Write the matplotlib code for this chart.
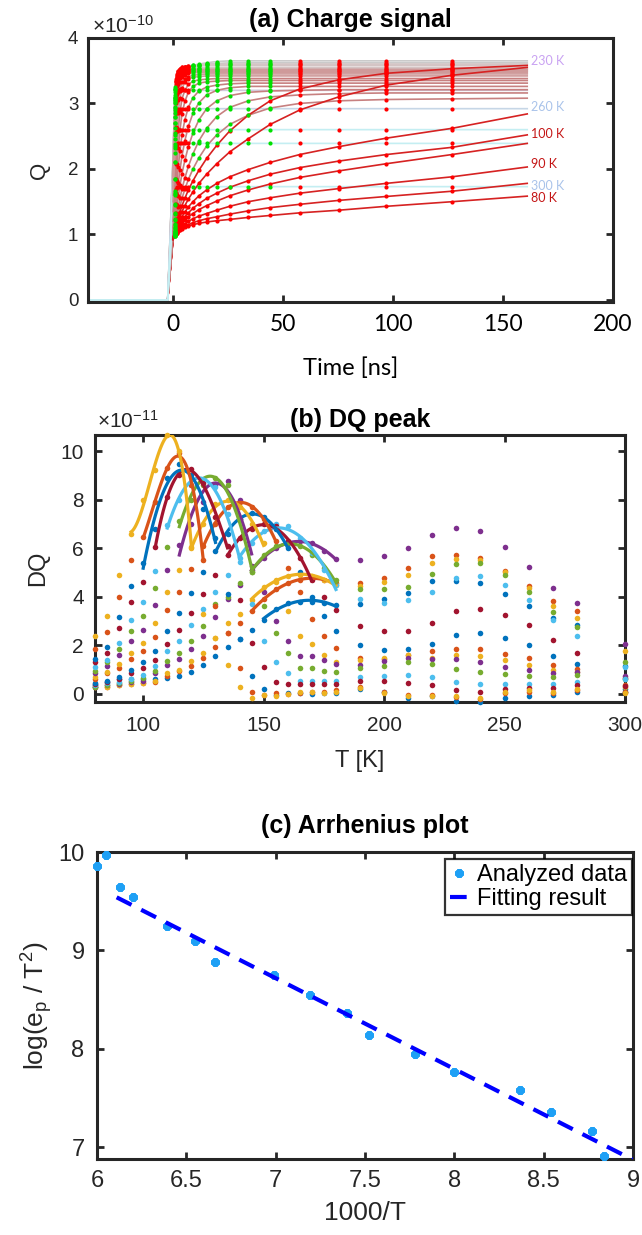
import matplotlib
matplotlib.use('Agg')
import matplotlib.pyplot as plt
import numpy as np

plt.rcParams['font.family'] = ['Liberation Sans', 'DejaVu Sans']
plt.rcParams['mathtext.fontset'] = 'custom'
plt.rcParams['mathtext.rm'] = 'Liberation Sans'
plt.rcParams['mathtext.it'] = 'Liberation Sans:italic'

INK = '#262626'
CALIBRI = ['Lato', 'DejaVu Sans']   # closest installed match to Calibri

# ---------------- (a) charge transients, Q in units of 1e-10 ----------------
t_pre = [-38.6, -2.4]          # baseline before trigger, Q = 0
t_dots = [0.8, 1.1, 1.45, 1.9, 2.4, 3.2, 4.1, 5.4, 7.0, 9.1, 11.8, 15.3,
          19.9, 25.8, 34.2, 44.2, 57.6, 75.3, 97.0, 126.8]
t_last = 161.0
temps_a = [80, 85, 90, 95, 100, 105, 110, 115, 120, 125, 130, 135, 140, 145,
           150, 155, 160, 165, 170, 175, 180, 190, 200, 210, 220, 230, 240,
           250, 260, 270, 280, 300]
q_trig = [0.92, 0.92, 0.93, 0.93, 0.93, 0.94, 0.95, 0.96, 0.97, 0.98, 1.0,
          1.02, 1.05, 1.1, 1.2, 1.35, 1.5, 1.6, 1.7, 1.8, 1.9, 2.0, 2.05,
          2.1, 2.1, 2.15, 2.1, 2.0, 1.9, 1.75, 1.6, 1.3]
q_curves = [
    [0.97, 0.99, 1.01, 1.03, 1.05, 1.07, 1.09, 1.11, 1.13, 1.15, 1.17, 1.19, 1.21, 1.23, 1.26, 1.29, 1.33, 1.37, 1.43, 1.50],
    [0.97, 0.99, 1.01, 1.03, 1.05, 1.08, 1.10, 1.13, 1.15, 1.18, 1.21, 1.24, 1.27, 1.31, 1.36, 1.41, 1.46, 1.52, 1.58, 1.66],
    [0.98, 1.00, 1.02, 1.05, 1.07, 1.10, 1.13, 1.16, 1.20, 1.24, 1.28, 1.32, 1.37, 1.43, 1.50, 1.56, 1.63, 1.70, 1.78, 1.88],
    [0.99, 1.01, 1.04, 1.07, 1.10, 1.14, 1.18, 1.22, 1.27, 1.32, 1.38, 1.44, 1.51, 1.59, 1.68, 1.77, 1.87, 1.97, 2.08, 2.22],
    [1.00, 1.02, 1.05, 1.09, 1.12, 1.17, 1.22, 1.27, 1.33, 1.40, 1.47, 1.55, 1.63, 1.72, 1.82, 1.92, 2.02, 2.12, 2.22, 2.33],
    [1.00, 1.03, 1.07, 1.11, 1.15, 1.21, 1.27, 1.34, 1.42, 1.50, 1.59, 1.68, 1.78, 1.88, 1.99, 2.10, 2.22, 2.34, 2.47, 2.62],
    [1.02, 1.06, 1.10, 1.15, 1.20, 1.27, 1.35, 1.44, 1.54, 1.65, 1.78, 1.92, 2.08, 2.26, 2.46, 2.68, 2.90, 3.10, 3.28, 3.43],
    [1.04, 1.08, 1.13, 1.19, 1.25, 1.34, 1.44, 1.55, 1.68, 1.82, 1.98, 2.16, 2.36, 2.58, 2.82, 3.04, 3.22, 3.36, 3.46, 3.53],
    [1.06, 1.11, 1.17, 1.24, 1.32, 1.43, 1.55, 1.69, 1.84, 2.00, 2.17, 2.35, 2.52, 2.68, 2.82, 2.93, 3.00, 3.04, 3.06, 3.07],
    [1.10, 1.16, 1.23, 1.32, 1.42, 1.55, 1.70, 1.86, 2.04, 2.23, 2.43, 2.62, 2.80, 2.94, 3.04, 3.10, 3.13, 3.15, 3.16, 3.16],
    [1.15, 1.23, 1.33, 1.45, 1.58, 1.75, 1.93, 2.13, 2.34, 2.55, 2.75, 2.92, 3.04, 3.12, 3.17, 3.19, 3.20, 3.21, 3.21, 3.21],
    [1.22, 1.33, 1.46, 1.61, 1.78, 1.99, 2.20, 2.43, 2.65, 2.85, 3.01, 3.13, 3.20, 3.24, 3.26, 3.26, 3.26, 3.26, 3.26, 3.26],
    [1.32, 1.46, 1.63, 1.82, 2.03, 2.28, 2.52, 2.75, 2.94, 3.09, 3.19, 3.25, 3.28, 3.30, 3.31, 3.31, 3.31, 3.31, 3.31, 3.31],
    [1.45, 1.63, 1.84, 2.07, 2.32, 2.60, 2.84, 3.03, 3.17, 3.26, 3.31, 3.33, 3.34, 3.35, 3.35, 3.35, 3.35, 3.35, 3.35, 3.35],
    [1.62, 1.84, 2.08, 2.34, 2.60, 2.87, 3.07, 3.20, 3.29, 3.34, 3.36, 3.37, 3.38, 3.38, 3.38, 3.38, 3.38, 3.38, 3.38, 3.38],
    [1.85, 2.10, 2.37, 2.62, 2.86, 3.08, 3.23, 3.32, 3.37, 3.40, 3.41, 3.42, 3.42, 3.42, 3.42, 3.42, 3.42, 3.42, 3.42, 3.42],
    [2.10, 2.38, 2.64, 2.87, 3.06, 3.22, 3.32, 3.38, 3.41, 3.43, 3.44, 3.45, 3.45, 3.45, 3.45, 3.45, 3.45, 3.45, 3.45, 3.45],
    [2.35, 2.62, 2.86, 3.05, 3.20, 3.33, 3.40, 3.44, 3.46, 3.47, 3.47, 3.47, 3.47, 3.47, 3.47, 3.47, 3.47, 3.47, 3.47, 3.47],
    [2.55, 2.80, 3.01, 3.17, 3.29, 3.39, 3.44, 3.47, 3.48, 3.49, 3.49, 3.49, 3.49, 3.49, 3.49, 3.49, 3.49, 3.49, 3.49, 3.49],
    [2.70, 2.93, 3.12, 3.26, 3.36, 3.43, 3.47, 3.49, 3.50, 3.50, 3.50, 3.50, 3.50, 3.50, 3.50, 3.50, 3.50, 3.50, 3.50, 3.50],
    [2.85, 3.05, 3.21, 3.33, 3.41, 3.46, 3.49, 3.51, 3.52, 3.52, 3.52, 3.52, 3.52, 3.52, 3.52, 3.52, 3.52, 3.52, 3.52, 3.52],
    [2.95, 3.13, 3.27, 3.37, 3.43, 3.47, 3.49, 3.50, 3.51, 3.52, 3.52, 3.53, 3.53, 3.53, 3.53, 3.53, 3.53, 3.53, 3.53, 3.53],
    [3.00, 3.17, 3.30, 3.39, 3.45, 3.49, 3.51, 3.52, 3.53, 3.54, 3.54, 3.55, 3.55, 3.55, 3.55, 3.55, 3.55, 3.55, 3.55, 3.55],
    [3.05, 3.20, 3.32, 3.41, 3.47, 3.51, 3.53, 3.55, 3.56, 3.57, 3.57, 3.58, 3.58, 3.58, 3.58, 3.58, 3.58, 3.58, 3.58, 3.58],
    [3.08, 3.22, 3.34, 3.43, 3.49, 3.53, 3.55, 3.56, 3.57, 3.58, 3.59, 3.60, 3.60, 3.60, 3.60, 3.60, 3.60, 3.60, 3.60, 3.60],
    [3.10, 3.25, 3.37, 3.45, 3.50, 3.53, 3.55, 3.56, 3.57, 3.58, 3.60, 3.62, 3.64, 3.65, 3.65, 3.65, 3.65, 3.65, 3.65, 3.65],
    [3.08, 3.22, 3.34, 3.42, 3.48, 3.52, 3.54, 3.55, 3.56, 3.57, 3.58, 3.60, 3.61, 3.62, 3.62, 3.62, 3.62, 3.62, 3.62, 3.62],
    [2.90, 3.02, 3.10, 3.15, 3.18, 3.19, 3.20, 3.20, 3.20, 3.20, 3.20, 3.20, 3.20, 3.20, 3.20, 3.20, 3.20, 3.20, 3.20, 3.20],
    [2.70, 2.80, 2.86, 2.89, 2.91, 2.92, 2.92, 2.92, 2.92, 2.92, 2.92, 2.92, 2.92, 2.92, 2.92, 2.92, 2.92, 2.92, 2.92, 2.92],
    [2.45, 2.52, 2.56, 2.58, 2.59, 2.60, 2.60, 2.60, 2.60, 2.60, 2.60, 2.60, 2.60, 2.60, 2.60, 2.60, 2.60, 2.60, 2.60, 2.60],
    [2.25, 2.32, 2.36, 2.38, 2.39, 2.39, 2.39, 2.39, 2.39, 2.39, 2.39, 2.39, 2.39, 2.39, 2.39, 2.39, 2.39, 2.39, 2.39, 2.39],
    [1.60, 1.66, 1.70, 1.72, 1.73, 1.73, 1.73, 1.73, 1.73, 1.73, 1.73, 1.73, 1.73, 1.73, 1.73, 1.73, 1.73, 1.73, 1.73, 1.73],
]
q_last = [1.585, 1.78, 2.03, 2.39, 2.52, 2.84, 3.55, 3.58, 3.08, 3.16, 3.21,
          3.26, 3.31, 3.35, 3.38, 3.42, 3.45, 3.47, 3.49, 3.50, 3.52, 3.53,
          3.55, 3.58, 3.60, 3.65, 3.62, 3.20, 2.92, 2.60, 2.39, 1.73]
curve_labels = ['230 K', '260 K', '100 K', '90 K', '300 K', '80 K']
curve_label_q = [3.65, 2.95, 2.53, 2.08, 1.74, 1.56]
curve_label_colors = ['#c9a2f2', '#a9c3ea', '#c41515', '#c41515', '#a9c3ea', '#c41515']

# ---------------- (b) DQ vs T for 17 rate windows, units of 1e-11 ----------------
temps_b = [80, 85, 90, 95, 100, 105, 110, 115, 120, 125, 130, 135, 140, 145,
           150, 155, 160, 165, 170, 175, 180, 190, 200, 210, 220, 230, 240,
           250, 260, 270, 280, 300]
dq_windows = [
    [0.35, 0.5, 0.6, 0.6, 0.6, 0.6, 0.65, 0.75, 0.9, 1.2, 1.55, 1.95, 2.25, 2.65, 3.05, 3.5, 3.75, 3.8, 3.8, 3.75, 3.65, 3.7, 3.9, 4.15, 4.65, 4.65, 4.57, 4.12, 3.62, 3.14, 2.83, 1.15],
    [0.3, 0.3, 0.35, 0.4, 0.45, 0.5, 0.75, 0.95, 1.15, 1.5, 1.95, 2.5, 2.9, 3.4, 3.9, 4.3, 4.55, 4.7, 4.75, 4.7, 4.55, 4.55, 4.78, 5.19, 5.66, 5.72, 5.61, 5.06, 4.44, 3.83, 3.42, 0.35],
    [0.3, 0.3, 0.35, 0.4, 0.45, 0.55, 0.85, 1.0, 1.35, 1.7, 2.3, 2.9, 3.3, 3.85, 4.4, 4.7, 4.85, 4.9, 4.85, 4.7, 4.5, 4.45, 4.6, 4.9, 5.4, 5.56, 5.5, 5.0, 4.35, 3.6, 3.12, 1.76],
    [0.3, 0.35, 0.4, 0.5, 0.55, 0.85, 1.2, 1.45, 1.85, 2.4, 3.15, 3.9, 4.5, 5.1, 5.6, 6.0, 6.2, 6.3, 6.2, 5.9, 5.55, 5.5, 5.66, 6.0, 6.54, 6.82, 6.71, 6.06, 5.24, 4.38, 3.75, 2.07],
    [0.3, 0.35, 0.45, 0.55, 0.65, 0.95, 1.35, 1.7, 2.2, 2.8, 3.7, 4.0, 4.55, 5.0, 5.7, 6.1, 6.25, 6.1, 5.7, 5.2, 4.7, 4.3, 4.3, 4.4, 4.92, 5.36, 5.4, 4.88, 4.2, 3.37, 2.74, 1.3],
    [0.35, 0.45, 0.5, 0.6, 0.8, 1.15, 1.75, 2.2, 2.85, 3.5, 4.2, 4.9, 5.6, 6.2, 6.7, 7.0, 6.9, 6.4, 5.8, 5.1, 4.5, 3.9, 3.75, 3.85, 4.2, 4.79, 4.86, 4.47, 3.87, 3.05, 2.4, 1.1],
    [0.4, 0.5, 0.6, 0.85, 1.05, 1.4, 2.05, 2.65, 3.35, 4.1, 4.9, 5.7, 6.4, 6.8, 7.0, 6.9, 6.3, 5.6, 4.7, 4.0, 3.45, 2.8, 2.6, 2.6, 2.9, 3.42, 3.51, 3.24, 2.84, 2.21, 1.7, 0.65],
    [0.45, 0.55, 0.7, 1.0, 1.3, 1.75, 2.6, 3.35, 4.15, 5.0, 5.9, 6.6, 7.2, 7.45, 7.3, 6.8, 6.0, 5.0, 4.0, 3.2, 2.6, 2.0, 1.8, 1.85, 2.05, 2.44, 2.51, 2.3, 2.02, 1.56, 1.22, 0.2],
    [0.6, 0.85, 1.05, 1.45, 1.75, 2.35, 3.45, 4.2, 5.15, 6.1, 7.0, 7.7, 7.9, 7.7, 7.2, 6.3, 5.2, 4.2, 3.1, 2.4, 1.9, 1.5, 1.45, 1.6, 1.75, 1.85, 1.85, 1.65, 1.48, 1.21, 1.04, 0.1],
    [0.7, 0.9, 1.25, 1.7, 2.1, 2.9, 4.2, 5.1, 6.0, 7.0, 7.8, 8.0, 7.7, 7.0, 6.2, 4.6, 3.4, 2.4, 2.05, 1.6, 1.3, 1.4, 1.5, 1.6, 1.5, 1.6, 1.55, 1.4, 1.2, 1.0, 0.9, 0.3],
    [0.85, 1.15, 1.6, 2.2, 2.65, 3.65, 5.1, 6.13, 7.0, 7.9, 8.6, 8.75, 8.0, 5.25, 4.2, 3.0, 2.2, 1.55, 1.55, 1.4, 1.25, 1.2, 1.35, 1.5, 1.45, 1.43, 1.3, 1.12, 0.99, 0.86, 0.92, 0.75],
    [0.95, 1.3, 1.85, 2.6, 3.2, 4.35, 6.05, 7.1, 8.0, 8.6, 8.9, 8.6, 7.2, 5.0, 3.6, 2.5, 1.7, 1.05, 1.05, 0.95, 0.9, 1.05, 1.15, 1.3, 1.25, 1.03, 0.91, 0.82, 0.75, 0.69, 0.77, 0.6],
    [1.1, 1.4, 2.1, 3.05, 3.8, 5.07, 6.95, 8.0, 8.6, 8.85, 8.5, 7.4, 5.45, 3.7, 2.2, 1.3, 0.85, 0.55, 0.55, 0.55, 0.55, 0.7, 0.75, 0.8, 0.7, 0.48, 0.41, 0.4, 0.4, 0.4, 0.48, 0.6],
    [1.3, 1.7, 2.7, 3.8, 4.6, 6.05, 8.1, 9.0, 9.25, 8.7, 7.3, 6.07, 3.85, 2.1, 1.1, 0.5, 0.4, 0.4, 0.4, 0.4, 0.4, 0.55, 0.55, 0.45, 0.35, 0.18, 0.1, 0.2, 0.25, 0.25, 0.35, 0.33],
    [1.45, 1.95, 3.15, 4.45, 5.38, 6.8, 8.9, 9.45, 9.0, 7.6, 6.4, 4.1, 2.25, 0.75, 0.2, -0.05, 0.05, 0.05, 0.0, 0.05, 0.05, 0.2, 0.1, -0.15, -0.1, -0.27, -0.35, -0.15, -0.1, -0.05, 0.1, 0.1],
    [1.85, 2.55, 4.0, 5.5, 6.45, 7.9, 9.3, 9.9, 8.6, 5.5, 3.6, 2.5, 1.05, 0.1, -0.05, 0.05, 0.0, 0.05, 0.1, 0.1, 0.15, 0.3, 0.1, -0.05, -0.05, -0.14, -0.2, 0.05, 0.1, 0.05, 0.15, 0.1],
    [2.4, 3.2, 4.9, 6.6, 8.0, 9.2, 10.66, 10.0, 6.06, 3.3, 2.3, 1.2, 0.3, -0.15, -0.05, -0.1, 0.0, 0.1, 0.1, 0.05, 0.1, 0.25, 0.05, -0.1, -0.1, -0.07, -0.15, 0.1, 0.15, 0.1, 0.2, 0.05],
]
fit_ranges = [(150, 180), (145, 180), (145, 180), (145, 180), (145, 180),
              (140, 180), (135, 170), (130, 160), (125, 155), (120, 150),
              (115, 145), (115, 145), (110, 140), (105, 135), (100, 130),
              (100, 125), (95, 120)]
# quadratic peak fits, cubic for the skewed slowest windows
fit_degrees = [2, 2, 2, 2, 2, 2, 2, 2, 2, 2, 2, 2, 2, 3, 3, 3, 3]
matlab_colors = ['#0072BD', '#D95319', '#EDB120', '#7E2F8E', '#77AC30',
                 '#4DBEEE', '#A2142F']

# ---------------- (c) Arrhenius data ----------------
inv_T = [6.00, 6.05, 6.13, 6.20, 6.39, 6.55, 6.66, 6.99, 7.19, 7.40, 7.52,
         7.78, 8.00, 8.37, 8.54, 8.77, 8.84]
log_ep = [9.86, 9.97, 9.64, 9.54, 9.25, 9.10, 8.88, 8.75, 8.55, 8.36, 8.14,
          7.95, 7.76, 7.58, 7.36, 7.16, 6.91]
fit_first = 2          # first point used in the linear fit
fit_span = (6.11, 9.0)


def matlab_box(ax, size):
    ax.tick_params(direction='in', top=True, right=True, length=5, width=2,
                   color=INK, labelcolor=INK, labelsize=size)
    for sp in ax.spines.values():
        sp.set_linewidth(2.2)
        sp.set_color(INK)


def line_color(T):
    if T <= 115:
        return '#d62222'
    if T <= 150:
        return '#c78080'
    if T <= 180:
        return '#cf9a9a'
    if T <= 220:
        return '#d4c4c4'
    if T <= 240:
        return '#cacaca'
    if T == 250:
        return '#d2cadc'
    if T == 260:
        return '#c6d6e6'
    return '#c4eef2'


fig = plt.figure(figsize=(6.42, 12.35), dpi=100)

# ---------------- panel (a) ----------------
ax1 = fig.add_axes([0.1371, 0.7555, 0.8178, 0.2138])
for i, T in enumerate(temps_a):
    ax1.plot(t_pre + [0.0], [0, 0, q_trig[i]], color=line_color(T), lw=1.2, zorder=2)
for i in range(len(temps_a) - 1, -1, -1):
    T = temps_a[i]
    ax1.plot([0.0] + t_dots + [t_last], [q_trig[i]] + q_curves[i] + [q_last[i]],
             color=line_color(T), lw=1.2, zorder=2)
td = np.array(t_dots)
for i, T in enumerate(temps_a):
    q = np.array(q_curves[i])
    green = (td <= 1.1) | ((T >= 120) & (td >= 9) & (td <= 45))
    ax1.plot(td[~green], q[~green], 'o', color='#ff0000', ms=3, mec='none', zorder=3)
    ax1.plot(td[green], q[green], 'o', color='#00e000', ms=3, mec='none', zorder=4)
for lab, qv, c in zip(curve_labels, curve_label_q, curve_label_colors):
    ax1.text(t_last + 1.5, qv, lab, color=c, fontsize=9, family=CALIBRI,
             va='center', ha='left')
ax1.set_xlim(-38.6, 200)
ax1.set_ylim(-0.03, 4)
ax1.set_xticks([0, 50, 100, 150, 200])
ax1.set_yticks([0, 1, 2, 3, 4])
matlab_box(ax1, 13.5)
ax1.tick_params(axis='x', pad=9, labelcolor='black')
ax1.tick_params(axis='y', pad=7)
for lb in ax1.get_xticklabels():
    lb.set_fontfamily(CALIBRI)
    lb.set_fontsize(16.5)
ax1.set_xlabel('Time [ns]', family=CALIBRI, fontsize=17, va='center')
ax1.xaxis.set_label_coords(0.5, -0.25)
ax1.set_ylabel('Q', fontsize=16, va='center', color=INK)
ax1.yaxis.set_label_coords(-0.093, 0.5)
ax1.set_title('(a) Charge signal', fontsize=18, fontweight='bold', pad=8)
ax1.text(0.008, 1.019, r'$\times10^{-10}$', transform=ax1.transAxes,
         fontsize=15, color=INK, ha='left', va='baseline')

# ---------------- panel (b) ----------------
ax2 = fig.add_axes([0.148, 0.4316, 0.8255, 0.2162])
Tb = np.array(temps_b, dtype=float)
for w, dq in enumerate(dq_windows):
    ax2.plot(Tb, dq, 'o', color=matlab_colors[w % 7], ms=4, mec='none',
             clip_on=False, zorder=3)
for w, dq in enumerate(dq_windows):
    lo, hi = fit_ranges[w]
    sel = (Tb >= lo) & (Tb <= hi)
    p = np.polyfit(Tb[sel], np.array(dq)[sel], fit_degrees[w])
    tt = np.linspace(lo, hi, 120)
    ax2.plot(tt, np.polyval(p, tt), color=matlab_colors[w % 7], lw=2.3, zorder=4)
ax2.set_xlim(80, 300)
ax2.set_ylim(-0.33, 10.66)
ax2.set_xticks([100, 150, 200, 250, 300])
ax2.set_yticks([0, 2, 4, 6, 8, 10])
matlab_box(ax2, 15)
ax2.tick_params(axis='x', pad=10)
ax2.tick_params(axis='y', pad=8)
ax2.set_xlabel('T [K]', fontsize=17, color=INK, va='center')
ax2.xaxis.set_label_coords(0.5, -0.221)
ax2.set_ylabel('DQ', fontsize=17, color=INK, va='center')
ax2.yaxis.set_label_coords(-0.107, 0.5)
ax2.set_title('(b) DQ peak', fontsize=18, fontweight='bold', pad=6)
ax2.text(0.004, 1.026, r'$\times10^{-11}$', transform=ax2.transAxes,
         fontsize=15, color=INK, ha='left', va='baseline')

# ---------------- panel (c) ----------------
ax3 = fig.add_axes([0.1511, 0.0615, 0.8349, 0.2486])
ax3.plot(inv_T, log_ep, linestyle='none', marker=(8, 2, 0), ms=6, mew=2.4,
         color='#1ea0f5', label='Analyzed data', clip_on=False, zorder=3)
slope, icpt = np.polyfit(inv_T[fit_first:], log_ep[fit_first:], 1)
xf = np.array(fit_span)
ax3.plot(xf, slope * xf + icpt, '--', color='#0000ff', lw=3,
         dashes=(4, 2.6), label='Fitting result', zorder=4)
ax3.set_xlim(6, 9)
ax3.set_ylim(6.88, 10)
ax3.set_xticks([6, 6.5, 7, 7.5, 8, 8.5, 9])
ax3.set_xticklabels(['6', '6.5', '7', '7.5', '8', '8.5', '9'])
ax3.set_yticks([7, 8, 9, 10])
matlab_box(ax3, 17)
ax3.tick_params(axis='x', pad=8)
ax3.tick_params(axis='y', pad=9)
ax3.set_xlabel('1000/T', fontsize=19, color=INK, va='center')
ax3.xaxis.set_label_coords(0.5, -0.176)
ax3.set_ylabel(r'log(e$_\mathrm{p}$ / T$^2$)', fontsize=19, color=INK, va='center')
ax3.yaxis.set_label_coords(-0.112, 0.5)
ax3.set_title('(c) Arrhenius plot', fontsize=18, fontweight='bold', pad=14)
leg = ax3.legend(loc='upper right', bbox_to_anchor=(0.998, 0.977), fontsize=17,
                 frameon=True, fancybox=False, edgecolor='black',
                 borderpad=0.2, handlelength=0.8, handletextpad=0.35,
                 labelspacing=0.1, borderaxespad=0.0)
leg.get_frame().set_linewidth(1.6)

fig.savefig('out.png', dpi=100, facecolor='white')
